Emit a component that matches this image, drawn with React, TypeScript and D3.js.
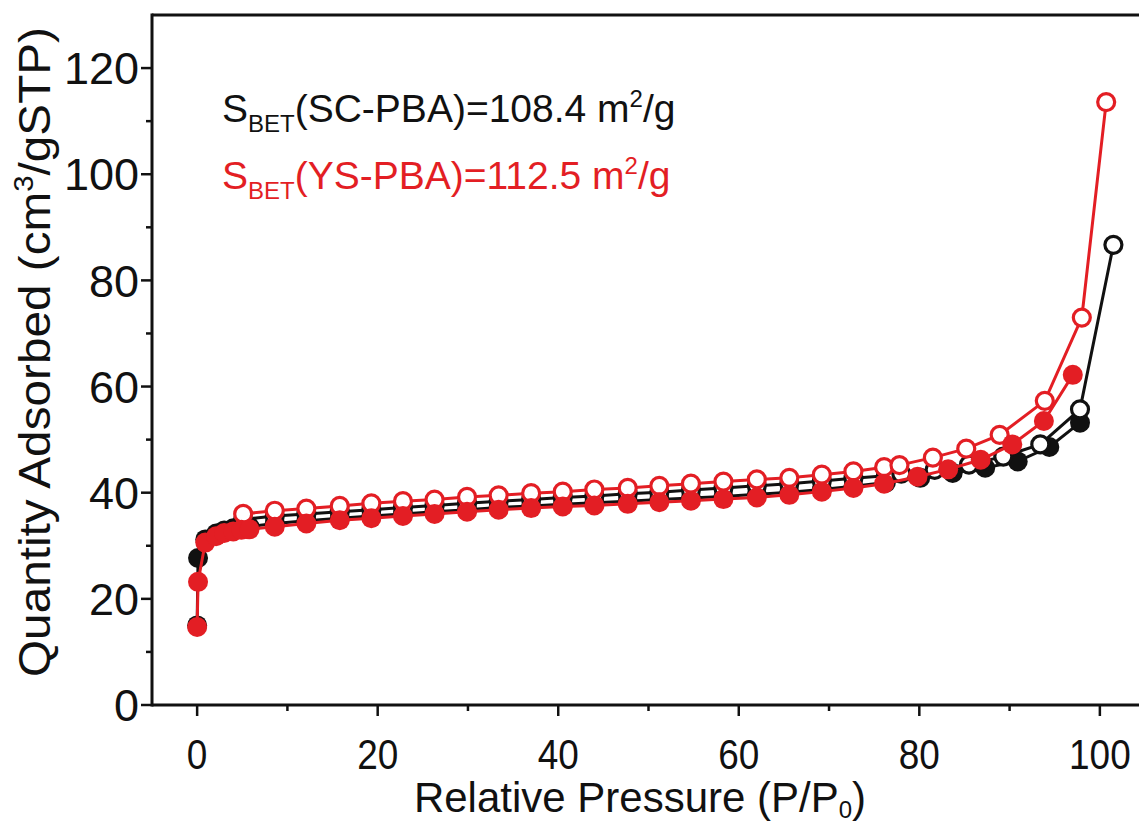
import React from 'react';
import * as d3 from 'd3';

// SC-PBA adsorption (black filled) / desorption (black open)
const scAdsX = [0.0, 0.1, 0.9, 2.1, 3.0, 4.0, 4.9, 5.8, 8.6, 12.1, 15.8, 19.3, 22.8, 26.3, 29.9, 33.4, 37.0, 40.5, 44.0, 47.7, 51.2, 54.7, 58.3, 62.0, 65.6, 69.2, 72.7, 76.3, 80.1, 83.7, 87.3, 90.9, 94.4, 97.8];
const scAdsY = [15.0, 27.7, 31.2, 32.3, 32.9, 33.3, 33.5, 33.6, 34.2, 34.7, 35.2, 35.6, 36.0, 36.4, 36.8, 37.2, 37.5, 37.8, 38.1, 38.4, 38.7, 39.0, 39.3, 39.7, 40.1, 40.6, 41.2, 41.9, 42.8, 43.7, 44.7, 45.9, 48.6, 53.2];
const scDesX = [5.1, 8.6, 12.1, 15.8, 19.3, 22.8, 26.3, 29.9, 33.4, 37.0, 40.5, 44.0, 47.7, 51.2, 54.7, 58.3, 62.0, 65.6, 69.2, 72.7, 76.3, 78.0, 81.7, 85.5, 89.3, 93.4, 97.8, 101.5];
const scDesY = [35.0, 35.6, 36.0, 36.4, 36.8, 37.2, 37.6, 38.0, 38.4, 38.7, 39.1, 39.4, 39.8, 40.1, 40.5, 40.9, 41.3, 41.7, 42.2, 42.7, 43.2, 43.6, 44.3, 45.3, 46.8, 49.1, 55.7, 86.7];

// YS-PBA adsorption (red filled) / desorption (red open)
const ysAdsX = [0.0, 0.1, 0.9, 2.1, 3.0, 4.0, 4.9, 5.8, 8.6, 12.1, 15.8, 19.3, 22.8, 26.3, 29.9, 33.4, 37.0, 40.5, 44.0, 47.7, 51.2, 54.7, 58.3, 62.0, 65.6, 69.2, 72.7, 76.1, 79.8, 83.2, 86.8, 90.3, 93.8, 97.0];
const ysAdsY = [14.7, 23.2, 30.6, 31.8, 32.4, 32.7, 33.0, 33.1, 33.6, 34.2, 34.8, 35.2, 35.6, 36.0, 36.4, 36.8, 37.1, 37.4, 37.6, 37.9, 38.2, 38.5, 38.8, 39.1, 39.6, 40.2, 40.9, 41.7, 43.0, 44.4, 46.2, 49.1, 53.5, 62.2];
const ysDesX = [5.1, 8.6, 12.1, 15.8, 19.3, 22.8, 26.3, 29.9, 33.4, 37.0, 40.5, 44.0, 47.7, 51.2, 54.7, 58.3, 62.0, 65.6, 69.2, 72.7, 76.1, 77.8, 81.5, 85.2, 88.9, 93.9, 98.0, 100.7];
const ysDesY = [36.0, 36.6, 37.0, 37.5, 38.0, 38.4, 38.7, 39.2, 39.5, 39.9, 40.2, 40.6, 40.9, 41.3, 41.7, 42.1, 42.5, 42.8, 43.4, 44.0, 44.8, 45.2, 46.6, 48.3, 50.9, 57.3, 73.0, 113.6];

const xTicks = [0, 20, 40, 60, 80, 100];
const xMinor = [10, 30, 50, 70, 90];
const yTicks = [0, 20, 40, 60, 80, 100, 120];
const yMinor = [10, 30, 50, 70, 90, 110];

const BLACK = '#111111';
const RED = '#e31e24';
const FONT = '"Liberation Sans", Arial, sans-serif';

const W = 1139;
const H = 825;
const left = 152, right = 1145, top = 15, bottom = 705;

const x = d3.scaleLinear().domain([-5, 105]).range([left, right]);
const y = d3.scaleLinear().domain([0, 130]).range([bottom, top]);

const zip = (xs: number[], ys: number[]) => xs.map((v, i) => [v, ys[i]] as [number, number]);

const line = d3.line<[number, number]>()
  .x(d => x(d[0]))
  .y(d => y(d[1]));

const Series = ({ pts, color, open }: { pts: [number, number][]; color: string; open: boolean }) => (
  <g>
    <path d={line(pts) || ''} fill="none" stroke={color} strokeWidth={3} />
    {pts.map((p, i) => (
      open
        ? <circle key={i} cx={x(p[0])} cy={y(p[1])} r={8.5} fill="#fff" stroke={color} strokeWidth={3.2} />
        : <circle key={i} cx={x(p[0])} cy={y(p[1])} r={10} fill={color} />
    ))}
  </g>
);

const App = () => {
  const fs = 42;
  return (
    <svg width={W} height={H} style={{ position: 'absolute', left: 0, top: 0, background: '#fff' }}
      fontFamily={FONT}>
      <rect x={0} y={0} width={W} height={H} fill="#fff" />

      {/* frame */}
      <line x1={left} x2={right} y1={top} y2={top} stroke={BLACK} strokeWidth={3} />
      <line x1={left} x2={left} y1={top - 1.5} y2={bottom + 1.5} stroke={BLACK} strokeWidth={3} />
      <line x1={left} x2={right} y1={bottom} y2={bottom} stroke={BLACK} strokeWidth={3} />
      <line x1={right} x2={right} y1={top} y2={bottom} stroke={BLACK} strokeWidth={3} />

      {/* x ticks */}
      {xTicks.map(t => (
        <g key={'xt' + t}>
          <line x1={x(t)} x2={x(t)} y1={bottom} y2={bottom + 11} stroke={BLACK} strokeWidth={2.5} />
          <text transform={`translate(${x(t)},769) scale(0.88,1)`} fontSize={42} textAnchor="middle" fill={BLACK}>{t}</text>
        </g>
      ))}
      {xMinor.map(t => (
        <line key={'xm' + t} x1={x(t)} x2={x(t)} y1={bottom} y2={bottom + 6} stroke={BLACK} strokeWidth={2.5} />
      ))}

      {/* y ticks */}
      {yTicks.map(t => (
        <g key={'yt' + t}>
          <line x1={left - 11} x2={left} y1={y(t)} y2={y(t)} stroke={BLACK} strokeWidth={2.5} />
          <text x={139} y={y(t)} dy="0.36em" fontSize={45} textAnchor="end" fill={BLACK}>{t}</text>
        </g>
      ))}
      {yMinor.map(t => (
        <line key={'ym' + t} x1={left - 6} x2={left} y1={y(t)} y2={y(t)} stroke={BLACK} strokeWidth={2.5} />
      ))}

      {/* axis titles */}
      <text x={640} y={812} fontSize={fs} textAnchor="middle" fill={BLACK}>
        Relative Pressure (P/P<tspan fontSize={24} dy={6}>0</tspan><tspan dy={-6}>)</tspan>
      </text>
      <text transform="translate(50,352) rotate(-90)" fontSize={44} textAnchor="middle" fill={BLACK}
        textLength={650} lengthAdjust="spacingAndGlyphs">
        Quantity Adsorbed (cm<tspan fontSize={27} dy={-17}>3</tspan><tspan dy={17}>/gSTP)</tspan>
      </text>

      {/* data */}
      <Series pts={zip(scAdsX, scAdsY)} color={BLACK} open={false} />
      <Series pts={zip(scDesX, scDesY)} color={BLACK} open={true} />
      <Series pts={zip(ysDesX, ysDesY)} color={RED} open={true} />
      <Series pts={zip(ysAdsX, ysAdsY)} color={RED} open={false} />

      {/* annotations */}
      <text x={222} y={122} fontSize={39} fill={BLACK}>
        S<tspan fontSize={24} dy={10}>BET</tspan><tspan dy={-10}>(SC-PBA)=108.4 m</tspan><tspan fontSize={24} dy={-15}>2</tspan><tspan dy={15}>/g</tspan>
      </text>
      <text x={222} y={189} fontSize={39} fill={RED}>
        S<tspan fontSize={24} dy={10}>BET</tspan><tspan dy={-10}>(YS-PBA)=112.5 m</tspan><tspan fontSize={24} dy={-15}>2</tspan><tspan dy={15}>/g</tspan>
      </text>
    </svg>
  );
};

export default App;
